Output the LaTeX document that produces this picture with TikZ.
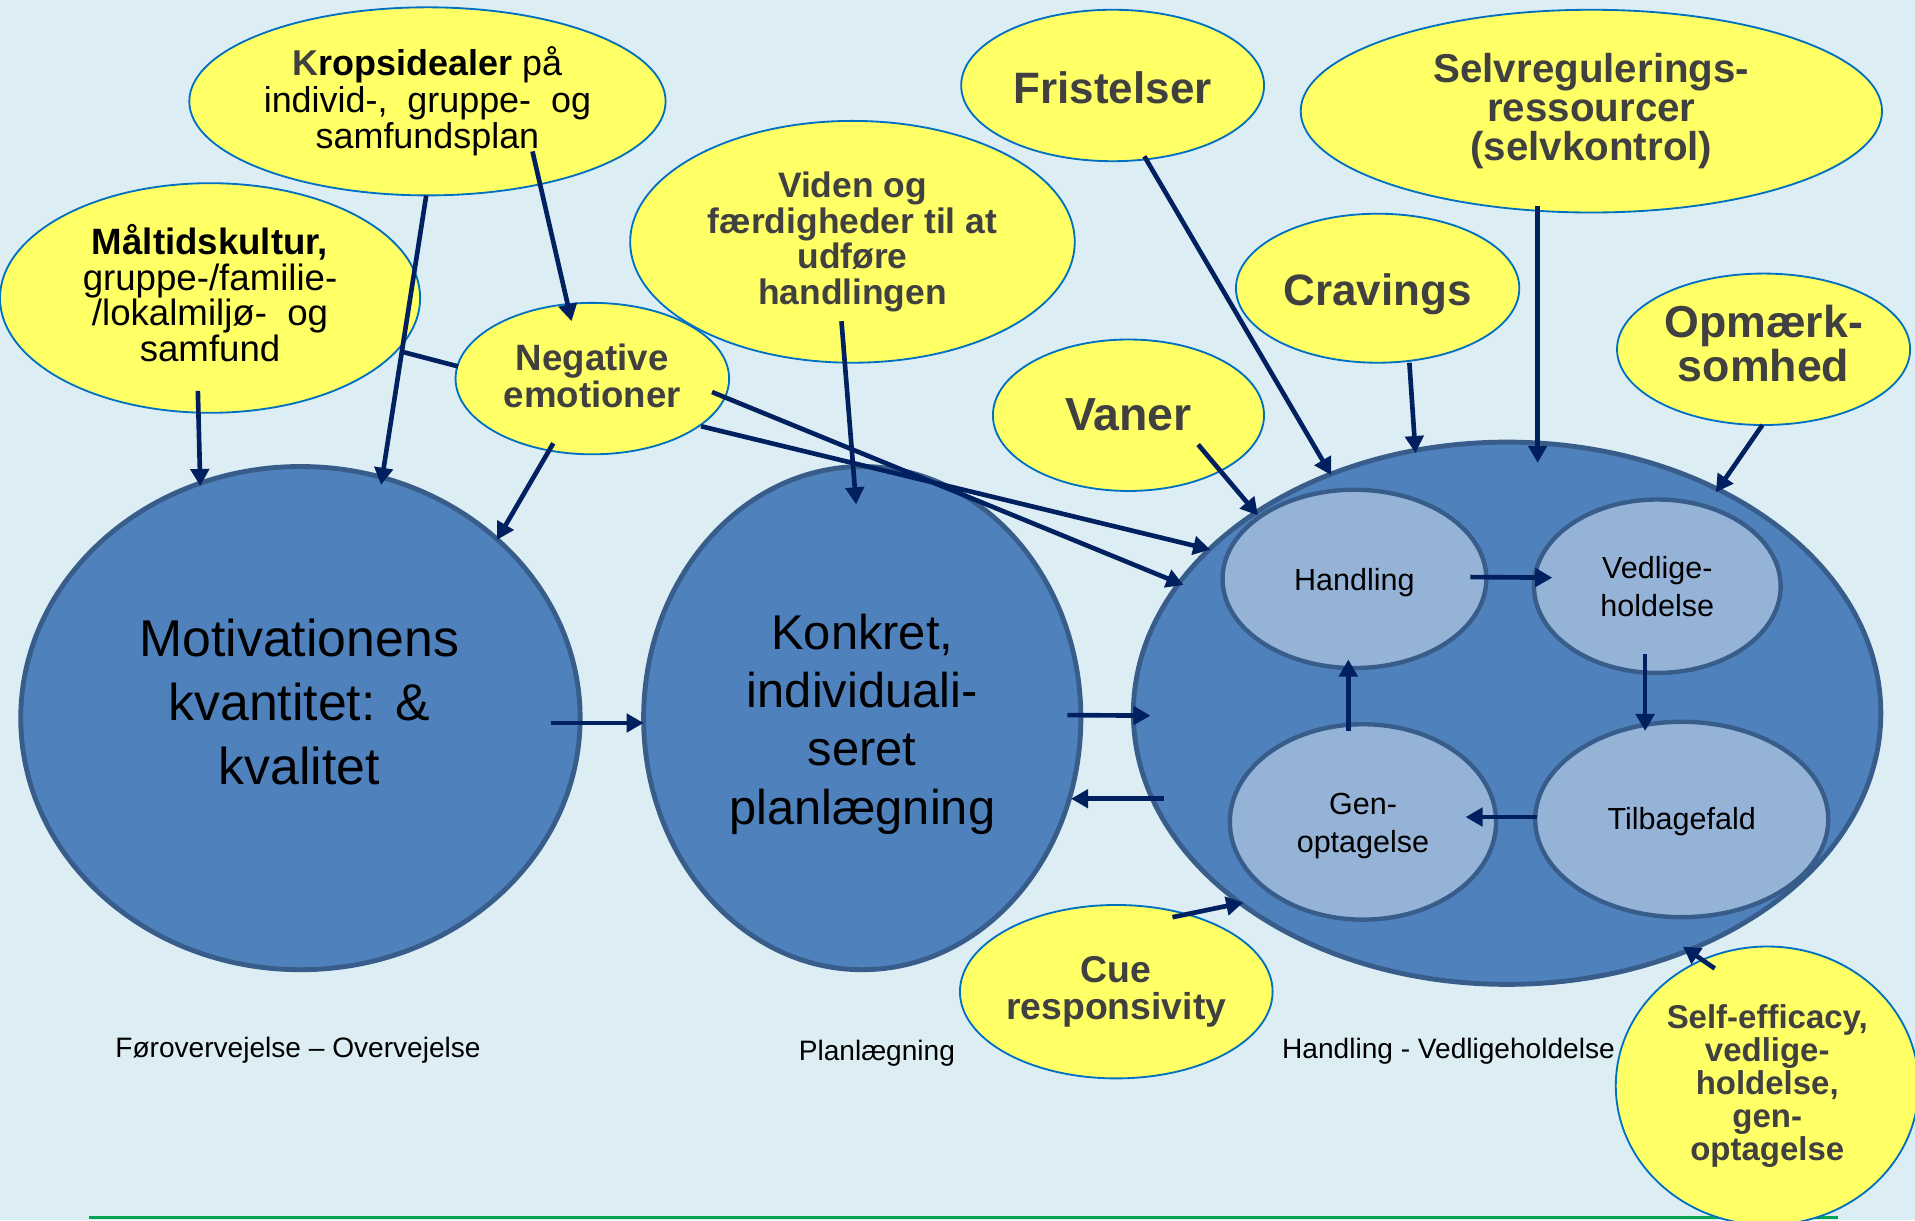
\documentclass[tikz,border=0pt]{standalone}
\usepackage{fontspec}
\setmainfont{Liberation Sans}
\usetikzlibrary{shapes.geometric,arrows.meta,calc}

\definecolor{bgblue}{RGB}{220,238,244}
\definecolor{yfill}{RGB}{255,255,102}
\definecolor{ybord}{RGB}{0,112,192}
\definecolor{bfill}{RGB}{79,129,189}
\definecolor{bbord}{RGB}{56,93,138}
\definecolor{ifill}{RGB}{149,179,215}
\definecolor{navy}{RGB}{0,32,96}
\definecolor{tgray}{RGB}{64,64,64}
\definecolor{rulegreen}{RGB}{0,166,81}

\newcommand\fsz[2]{\fontsize{#1}{#2}\selectfont}

\tikzset{
  yel/.style={ellipse, draw=ybord, line width=0.75pt, fill=yfill,
    inner sep=0pt, outer sep=0pt, align=center, text=tgray},
  bigc/.style={ellipse, draw=bbord, line width=2pt, fill=bfill,
    inner sep=0pt, outer sep=0pt, align=center, text=black},
  innc/.style={ellipse, draw=bbord, line width=1.8pt, fill=ifill,
    inner sep=0pt, outer sep=0pt, align=center, text=black,
    font=\fsz{12.5}{15.5}},
  txt/.style={inner sep=0pt, align=center},
  arr/.style={draw=navy, line width=1.9pt, -{Triangle[length=7pt,width=7.5pt]}},
  link/.style={draw=navy, line width=1.9pt},
  stage/.style={font=\fsz{11.5}{13}, inner sep=0pt, text=black}
}

\begin{document}
\begin{tikzpicture}[x=0.5pt,y=-0.5pt]
\useasboundingbox (0,0) rectangle (1568,999);
\fill[bgblue] (0,0) rectangle (1568,999);

% bottom rule
\draw[rulegreen, line width=1pt] (73,997) -- (1505,997);

% stage circles
\node[bigc, minimum width=229pt, minimum height=206pt] (motiv) at (246,588) {};
\node[txt, font=\fsz{21.2}{26.2}, text=black] (motivtxt) at ($(motiv)+(-1,-13)$)
  {Motivationens\\kvantitet:\hspace{0.38em}\&\\kvalitet};
\node[bigc, minimum width=179pt, minimum height=206pt] (konk) at (706,588) {};
\node[txt, font=\fsz{20}{23.8}, text=black] (konktxt) at ($(konk)+(0,5)$)
  {Konkret,\\individuali-\\seret\\planlægning};
\node[bigc, minimum width=306pt, minimum height=222pt] (act) at (1234,584) {};

% action cycle
\node[innc, minimum width=108pt, minimum height=73pt] (hand) at (1109,474) {};
\node[txt, font=\fsz{12.5}{15.5}] (handtxt) at ($(hand)+(0,3)$) {Handling};
\node[innc, minimum width=101pt, minimum height=71pt] (vedl) at (1357,480) {Vedlige-\\holdelse};
\node[innc, minimum width=109pt, minimum height=80pt] (gen) at (1116,673) {};
\node[txt, font=\fsz{12.5}{15.5}] (gentxt) at ($(gen)+(0,3)$) {Gen-\\optagelse};
\node[innc, minimum width=120pt, minimum height=80pt] (tilb) at (1377,671) {};
\node[txt, font=\fsz{12.5}{15.5}] (tilbtxt) at ($(tilb)+(0,2)$) {Tilbagefald};

% influencing factors
\node[yel, minimum width=195pt, minimum height=77pt, text=black, font=\fsz{14.7}{14.9}] (krop) at (350,83)
  {\textbf{\textcolor{tgray}{K}ropsidealer} på\\individ-,\ \ gruppe-\ \ og\\samfundsplan};
\node[yel, minimum width=172pt, minimum height=94pt] (maal) at (172,244) {};
\node[txt, font=\fsz{15}{14.7}, text=black] (maaltxt) at ($(maal)+(0,-4)$)
  {\textbf{Måltidskultur,}\\gruppe-/familie-\\/lokalmiljø-\ \ og\\samfund};
\node[yel, minimum width=182pt, minimum height=99pt, font=\bfseries\fsz{14.5}{14.6}] (viden) at (698,198)
  {Viden og\\færdigheder til at\\udføre\\handlingen};
\node[yel, minimum width=112pt, minimum height=62pt] (neg) at (485,310) {};
\node[txt, font=\bfseries\fsz{15}{14}, text=tgray] (negtxt) at ($(neg)+(0,-2)$) {Negative\\emotioner};
\node[yel, minimum width=124pt, minimum height=62pt] (frist) at (911,70) {};
\node[txt, font=\bfseries\fsz{18}{20}, text=tgray] (fristtxt) at ($(frist)+(0,2)$) {Fristelser};
\node[yel, minimum width=238pt, minimum height=83pt, font=\bfseries\fsz{16.5}{16}] (selv) at (1303,91)
  {Selvregulerings-\\ressourcer\\(selvkontrol)};
\node[yel, minimum width=116pt, minimum height=61pt] (crav) at (1128,236) {};
\node[txt, font=\bfseries\fsz{18}{20}, text=tgray] (cravtxt) at ($(crav)+(0,5)$) {Cravings};
\node[yel, minimum width=120pt, minimum height=62pt] (opm) at (1444,286) {};
\node[txt, font=\bfseries\fsz{18.3}{16.5}, text=tgray] (opmtxt) at ($(opm)+(0,-5)$) {Opmærk-\\somhed};
\node[yel, minimum width=111pt, minimum height=62pt, font=\bfseries\fsz{19}{21}] (vaner) at (924,340)
  {Vaner};
\node[yel, minimum width=128pt, minimum height=71pt, font=\bfseries\fsz{15.3}{15}] (cue) at (914,812)
  {Cue\\responsivity};
\node[yel, minimum width=124pt, minimum height=114pt, font=\bfseries\fsz{13.5}{13.5}] (self) at (1447,889)
  {Self-efficacy,\\vedlige-\\holdelse,\\gen-\\optagelse};

% stage captions
\node[stage] (st1) at (244,860) {Førovervejelse – Overvejelse};
\node[stage] (st2) at (718,862) {Planlægning};
\node[stage] (st3) at (1186,861) {Handling - Vedligeholdelse};

% connectors
\coordinate (k1) at ($(krop)+(-1,77)$);
\coordinate (k2) at ($(motiv)+(66,-191)$);
\draw[arr] (k1) -- (k2);
\coordinate (j) at ($(k1)!0.54!(k2)$);
\draw[link] ($(neg)+(-110,-10)$) -- (j);
\draw[arr] ($(krop)+(86,41)$) -- ($(neg)+(-17,-47)$);
\draw[arr] ($(maal)+(-10,76)$) -- ($(motiv)+(-82,-190)$);
\draw[arr] ($(neg)+(-32,53)$) -- ($(motiv)+(161,-146)$);
\draw[arr] ($(neg)+(98,11)$) -- ($(act)+(-265,-105)$);
\draw[arr] ($(neg)+(89,39)$) -- ($(act)+(-243,-134)$);
\draw[arr] ($(viden)+(-9,65)$) -- ($(konk)+(-5,-175)$);
\draw[arr] ($(frist)+(26,58)$) -- ($(act)+(-144,-195)$);
\draw[arr] ($(vaner)+(57,24)$) -- ($(hand)+(-79,-52)$);
\draw[arr] ($(crav)+(26,61)$) -- ($(act)+(-75,-213)$);
\draw[arr] ($(selv)+(-44,78)$) -- ($(act)+(25,-205)$);
\draw[arr] ($(opm)+(-1,62)$) -- ($(act)+(171,-181)$);
\draw[arr] ($(motiv)+(205,4)$) -- ($(konk)+(-179,4)$);
\draw[arr] ($(konk)+(168,-2.5)$) -- ($(act)+(-292,2)$);
\draw[arr] ($(act)+(-281,70)$) -- ($(konk)+(171,66)$);
\draw[arr] ($(cue)+(46,-61)$) -- ($(act)+(-216,155)$);
\draw[arr] ($(hand)+(95,-1.5)$) -- ($(vedl)+(-86,-7)$);
\draw[arr] ($(vedl)+(-10,55.5)$) -- ($(tilb)+(-30,-72.5)$);
\draw[arr] ($(tilb)+(-118.5,-2)$) -- ($(gen)+(84,-4)$);
\draw[arr] ($(gen)+(-12,-74.5)$) -- ($(hand)+(-5,66)$);
\draw[arr] ($(self)+(-43,-96)$) -- ($(act)+(144,191)$);
\end{tikzpicture}
\end{document}
